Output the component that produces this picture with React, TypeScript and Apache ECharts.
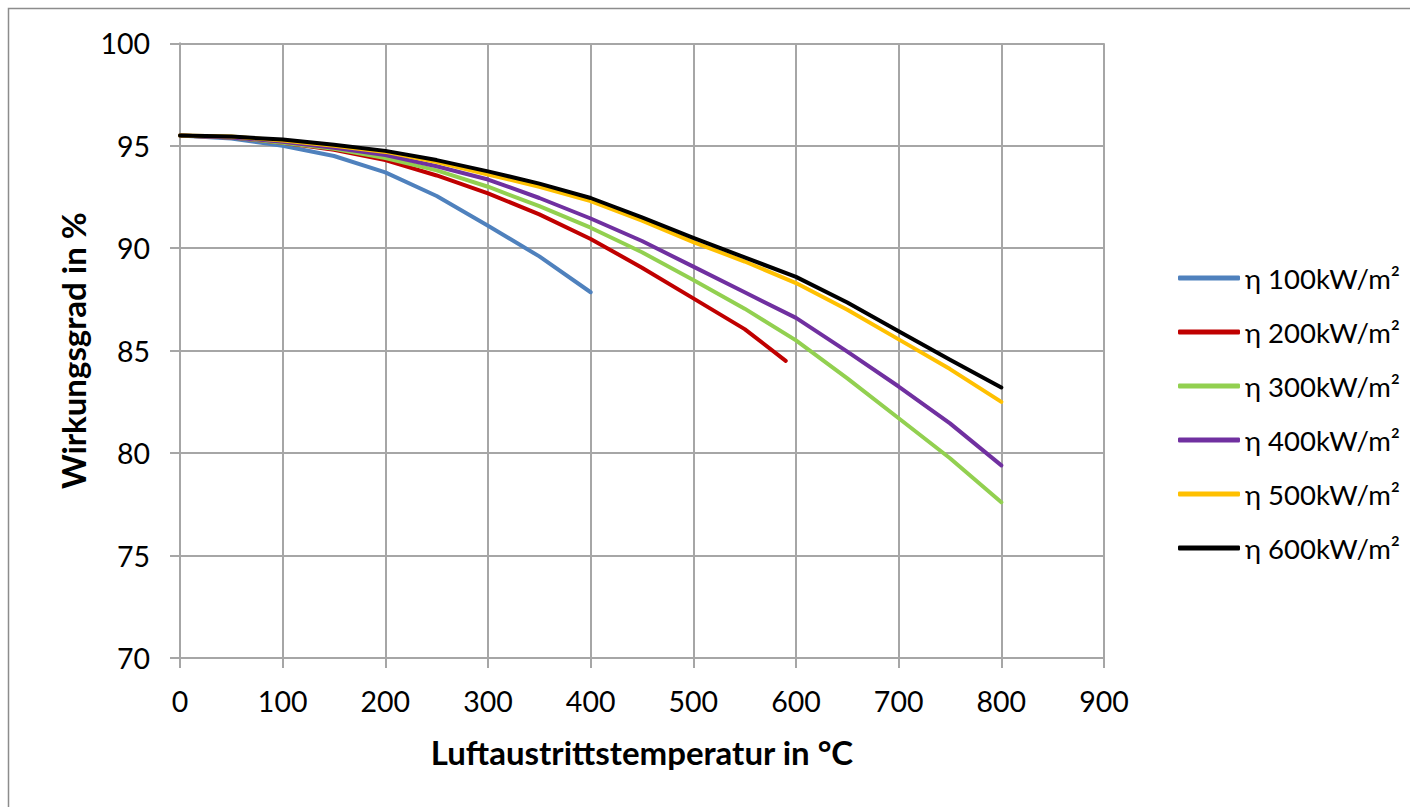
import React, { useEffect, useRef } from "react";
import * as echarts from "echarts";

const xTemps = [0, 50, 100, 150, 200, 250, 300, 350, 400, 450, 500, 550, 600, 650, 700, 750, 800];
const redTemps = [0, 50, 100, 150, 200, 250, 300, 350, 400, 450, 500, 550, 590];

const eta100 = [95.5, 95.35, 95.0, 94.5, 93.7, 92.55, 91.1, 89.6, 87.85];
const eta200 = [95.5, 95.4, 95.15, 94.8, 94.3, 93.55, 92.68, 91.65, 90.45, 89.05, 87.55, 86.05, 84.5];
const eta300 = [95.5, 95.4, 95.15, 94.85, 94.4, 93.8, 93.0, 92.05, 91.0, 89.8, 88.45, 87.05, 85.5, 83.65, 81.7, 79.75, 77.6];
const eta400 = [95.5, 95.4, 95.2, 94.9, 94.55, 94.0, 93.35, 92.45, 91.45, 90.35, 89.1, 87.85, 86.6, 84.95, 83.25, 81.45, 79.4];
const eta500 = [95.5, 95.45, 95.25, 95.0, 94.7, 94.2, 93.6, 93.0, 92.3, 91.35, 90.3, 89.35, 88.3, 87.0, 85.55, 84.1, 82.5];
const eta600 = [95.5, 95.45, 95.3, 95.05, 94.75, 94.3, 93.75, 93.15, 92.45, 91.5, 90.5, 89.55, 88.6, 87.35, 85.95, 84.55, 83.2];

const seriesNames = ["η 100kW/m²", "η 200kW/m²", "η 300kW/m²", "η 400kW/m²", "η 500kW/m²", "η 600kW/m²"];
const seriesColors = ["#4F81BD", "#C00000", "#92D050", "#7030A0", "#FFC000", "#000000"];
const seriesX = [xTemps, redTemps, xTemps, xTemps, xTemps, xTemps];
const seriesY = [eta100, eta200, eta300, eta400, eta500, eta600];

const FONT = "Lato";
const GRID = "#A6A6A6";

export default function App() {
  const ref = useRef<HTMLDivElement>(null);
  useEffect(() => {
    if (!ref.current) return;
    const chart = echarts.init(ref.current, null, { renderer: "svg" });
    chart.setOption({
      animation: false,
      backgroundColor: "#ffffff",
      textStyle: { fontFamily: FONT },
      graphic: [
        {
          type: "rect",
          shape: { x: 8.5, y: 8.5, width: 1420, height: 820 },
          style: { fill: "none", stroke: "#8C8C8C", lineWidth: 1.5 },
          silent: true,
        },
      ],
      grid: { left: 180, top: 43.3, right: 306, bottom: 149, containLabel: false },
      xAxis: {
        type: "value",
        min: 0,
        max: 900,
        interval: 100,
        name: "Luftaustrittstemperatur in °C",
        nameLocation: "middle",
        nameGap: 77,
        nameTextStyle: { fontFamily: FONT, fontWeight: "bold", fontSize: 33, color: "#000" },
        axisLine: { show: true, lineStyle: { color: GRID, width: 2 } },
        axisTick: { show: true, length: 10, lineStyle: { color: GRID, width: 2 } },
        axisLabel: { margin: 28, fontFamily: FONT, fontSize: 28.5, color: "#000" },
        splitLine: { show: true, lineStyle: { color: GRID, width: 2 } },
      },
      yAxis: {
        type: "value",
        min: 70,
        max: 100,
        interval: 5,
        name: "Wirkungsgrad in %",
        nameLocation: "middle",
        nameGap: 88,
        nameTextStyle: { fontFamily: FONT, fontWeight: "bold", fontSize: 33, color: "#000" },
        axisLine: { show: true, lineStyle: { color: GRID, width: 2 } },
        axisTick: { show: true, length: 10, lineStyle: { color: GRID, width: 2 } },
        axisLabel: { margin: 30, fontFamily: FONT, fontSize: 28.5, color: "#000" },
        splitLine: { show: true, lineStyle: { color: GRID, width: 2 } },
      },
      legend: {
        orient: "vertical",
        left: 1173,
        top: 258,
        icon: "roundRect",
        itemWidth: 62,
        itemHeight: 5,
        itemGap: 24,
        textStyle: { fontFamily: FONT, fontSize: 27.5, color: "#000", lineHeight: 30, padding: [0, 0, 0, 0] },
        data: seriesNames,
      },
      series: seriesNames.map((name, i) => ({
        name,
        type: "line",
        showSymbol: false,
        symbol: "none",
        smooth: false,
        color: seriesColors[i],
        lineStyle: { width: 4, color: seriesColors[i], cap: "round", join: "round" },
        data: seriesX[i].map((x, j) => [x, seriesY[i][j]]),
        z: 2 + i,
      })),
    });
    return () => chart.dispose();
  }, []);
  return <div ref={ref} style={{ position: "fixed", left: 0, top: 0, width: 1410, height: 807 }} />;
}
